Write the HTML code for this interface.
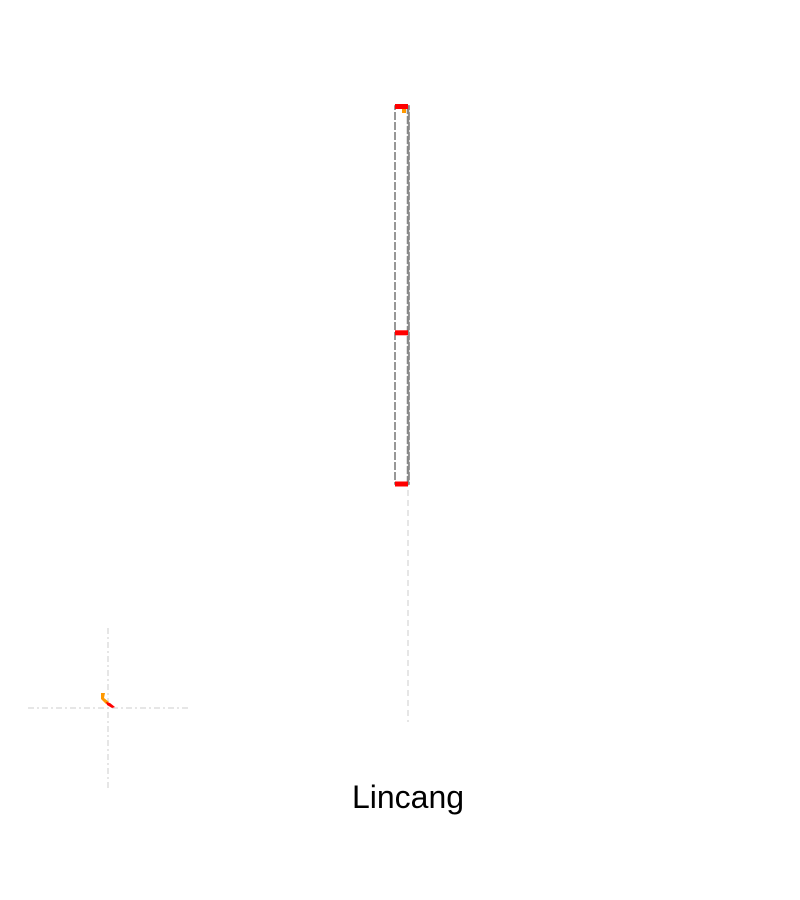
<!DOCTYPE html>
<html><head><meta charset="utf-8"><style>
html,body{margin:0;padding:0;background:#fff;width:800px;height:900px;overflow:hidden}
svg{display:block}
</style></head><body>
<svg id="chart" width="800" height="900">
  <g id="axes">
    <line x1="408" y1="110" x2="408" y2="722" stroke="#ddd" stroke-width="1.5" stroke-dasharray="6,4"/>
    <line x1="28" y1="708" x2="188" y2="708" stroke="#ddd" stroke-width="1.5" stroke-dasharray="6,3,2,3"/>
    <line x1="108" y1="628" x2="108" y2="788" stroke="#ddd" stroke-width="1.5" stroke-dasharray="6,3,2,3"/>
  </g>
  <g id="marks"></g>
  <text x="408" y="808" text-anchor="middle" font-family="'Liberation Sans',sans-serif" font-size="32" fill="#000">Lincang</text>
</svg>
<script>
const categories = ["Lincang"];
const lowValues = [0];
const q1Values = [0];
const medianValues = [40];
const q3Values = [100];
const highValues = [100];

const yMin = 0, yMax = 100, pxTop = 106, pxBottom = 484;
function y(v){ return pxBottom - (v - yMin) / (yMax - yMin) * (pxBottom - pxTop); }
function x(i){ return 402 + i * 100; }

const NS = "http://www.w3.org/2000/svg";
const g = document.getElementById("marks");
function mk(tag, attrs){ const e = document.createElementNS(NS, tag); for (const k in attrs) e.setAttribute(k, attrs[k]); g.appendChild(e); return e; }

categories.forEach((c, i) => {
  const cx = x(i), w = 14;
  const box = mk("rect", {x: cx - w/2, y: y(q3Values[i]), width: w, height: y(q1Values[i]) - y(q3Values[i]), fill: "none", stroke: "#777", "stroke-width": 1.5, "stroke-dasharray": "8,2"});
  
  
  const wl = mk("line", {x1: cx + 6, y1: y(highValues[i]), x2: cx + 6, y2: y(lowValues[i]), stroke: "#888", "stroke-width": 2.5, "stroke-dasharray": "8,2"});
  
  
  const hi = mk("rect", {x: cx - 7, y: y(highValues[i]) - 2, width: 13, height: 5, fill: "#f00"});
  
  
  const med = mk("rect", {x: cx - 7, y: y(medianValues[i]) - 2.5, width: 13, height: 5, fill: "#f00"});
  
  
  const lo = mk("rect", {x: cx - 7, y: y(lowValues[i]) - 2.5, width: 13, height: 5, fill: "#f00"});
  
  
  const o1 = mk("rect", {x: cx, y: y(highValues[i]) + 3, width: 4, height: 4, fill: "#f90"});
  
  
});

const inset1 = mk("path", {d: "M101 693 L105 693 L104 698 L109 702 L106 704 L101 699 Z", fill: "#f90"});


const inset2 = mk("path", {d: "M106 702 L110 703 L115 707 L112 708 L107 705 Z", fill: "#f00"});


</script>
</body></html>
